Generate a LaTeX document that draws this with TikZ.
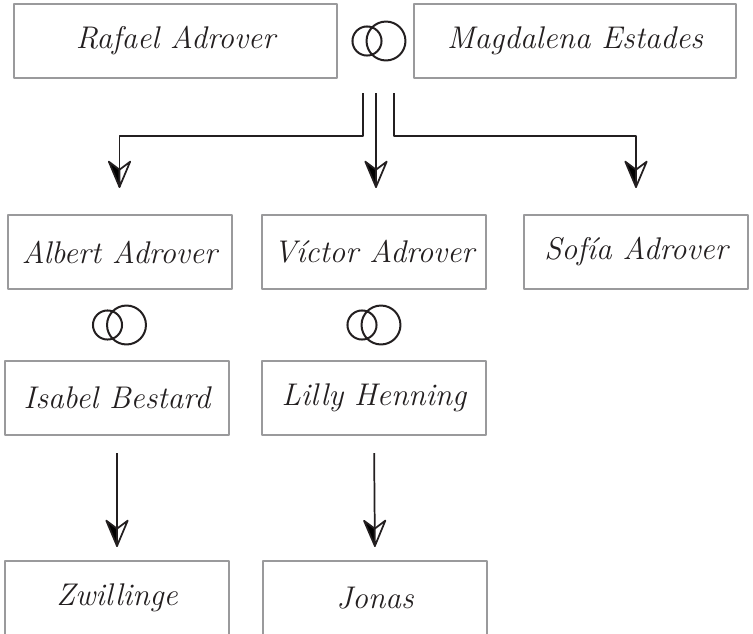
\documentclass[tikz,border=0pt]{standalone}
\usepackage{fontspec}
\usepackage{tikz}
\usetikzlibrary{arrows.meta,calc}
\definecolor{Ink}{HTML}{231F20}
\definecolor{Frame}{HTML}{9A9A9C}
% half filled, half open tip
\pgfdeclarearrow{
  name=Kin,
  setup code={
    \pgfarrowssettipend{0pt}
    \pgfarrowssetlineend{-12pt}
    \pgfarrowssetbackend{-19pt}
    \pgfarrowshullpoint{0pt}{0pt}
    \pgfarrowshullpoint{-19pt}{8pt}
    \pgfarrowshullpoint{-19pt}{-8pt}
  },
  drawing code={
    \pgfsetdash{}{0pt}\pgfsetroundjoin
    \pgfsetfillcolor{black}
    \pgfpathmoveto{\pgfqpoint{0pt}{0pt}}
    \pgfpathlineto{\pgfqpoint{-19pt}{-8pt}}
    \pgfpathlineto{\pgfqpoint{-13pt}{0pt}}
    \pgfpathclose
    \pgfusepathqfillstroke
    \pgfsetfillcolor{white}
    \pgfpathmoveto{\pgfqpoint{0pt}{0pt}}
    \pgfpathlineto{\pgfqpoint{-19pt}{8pt}}
    \pgfpathlineto{\pgfqpoint{-13pt}{0pt}}
    \pgfpathclose
    \pgfusepathqfillstroke
  }
}
\newcommand{\wedring}[1]{\draw[ring] ($(#1)+(-12,0)$) circle[radius=10.9pt] ($(#1)+(7,0)$) circle[radius=14.6pt];}
\tikzset{
  person/.style={draw=Frame,line width=1.5pt,fill=white,inner sep=0pt,minimum height=55.5pt,
    minimum width=168pt,text=Ink,font=\fontsize{23.5}{27}\selectfont\itshape},
  wide/.style={minimum width=242pt},
  ring/.style={draw=Ink,line width=1.5pt},
  arr/.style={-{Kin},line width=1.3pt,draw=Ink},
}

\begin{document}
\begin{tikzpicture}[x=0.75pt,y=-0.75pt,line join=round]
\useasboundingbox (0,0) rectangle (753,633);
\node[person,wide] (rafael) at (175.5,41) {Rafael Adrover};
\node[person,wide] (magdalena) at (575,41) {Magdalena Estades};
\coordinate (ring0) at (379,41);
\wedring{ring0}
\node[person] (albert) at (119.5,252) {Albert Adrover};
\node[person] (victor) at (374,252) {Víctor Adrover};
\node[person] (sofia) at (636,252) {Sofía Adrover};
\coordinate (ring1) at (119.5,325); \coordinate (ring2) at (374,325);
\wedring{ring1}
\wedring{ring2}
\node[person] (isabel) at (117,398) {Isabel Bestard};
\node[person] (lilly) at (374,398) {Lilly Henning};
\node[person] (zwillinge) at (117,598) {Zwillinge};
\node[person] (jonas) at (375,598) {Jonas};
% children of the first couple
\coordinate (rL) at (363,93); \coordinate (rM) at (376,93); \coordinate (rR) at (394,93);
\draw[arr,shorten >=20.25pt] (rL) -- ++(0,43) -| (albert.north);
\draw[arr,shorten >=20.25pt] (rM) -- (rM |- victor.north);
\draw[arr,shorten >=20.25pt] (rR) -- ++(0,43) -| (sofia.north);
\draw[arr,shorten <=12.75pt,shorten >=10.5pt] (isabel.south) -- (zwillinge.north);
\draw[arr,shorten <=12.75pt,shorten >=10.5pt] (lilly.south) -- (jonas.north);
\end{tikzpicture}
\end{document}
